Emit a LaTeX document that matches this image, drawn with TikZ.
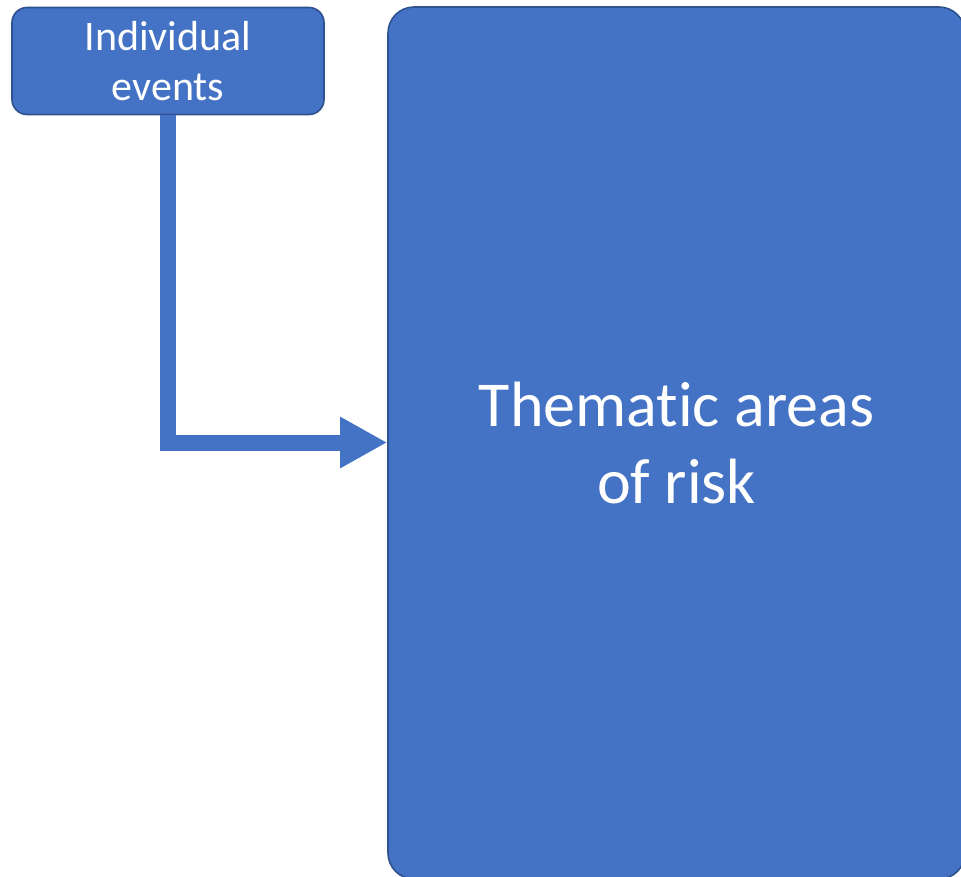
\documentclass[tikz,border=0pt]{standalone}
\usepackage{fontspec}
\setmainfont[Ligatures=NoCommon]{Carlito}
\usetikzlibrary{arrows.meta}
\definecolor{boxfill}{HTML}{4472C4}
\definecolor{boxline}{HTML}{2F528F}
\begin{document}
\begin{tikzpicture}[x=1pt,y=-1pt,
  bluebox/.style={draw=boxline,fill=boxfill,line width=1.6pt,text=white,
    align=center,inner sep=0pt},
  flow/.style={draw=boxfill,line width=16pt,line join=miter,
    -{Triangle[length=47pt,width=48pt]}}]
\useasboundingbox (0,0) rectangle (961,876);
\node[bluebox,rounded corners=15pt,minimum width=312pt,minimum height=107pt,
  font=\fontsize{42}{50}\selectfont] (events) at (168,61) {Individual\\events};
\node[bluebox,rounded corners=26pt,minimum width=577pt,minimum height=872pt,
  font=\fontsize{64}{77}\selectfont] (themes) at (676.5,443) {Thematic areas\\of risk};
\coordinate (bend) at (events.south |- 0,442.5);
\draw[flow] (events.south) -- (bend) -- (bend -| themes.west);
\end{tikzpicture}
\end{document}
